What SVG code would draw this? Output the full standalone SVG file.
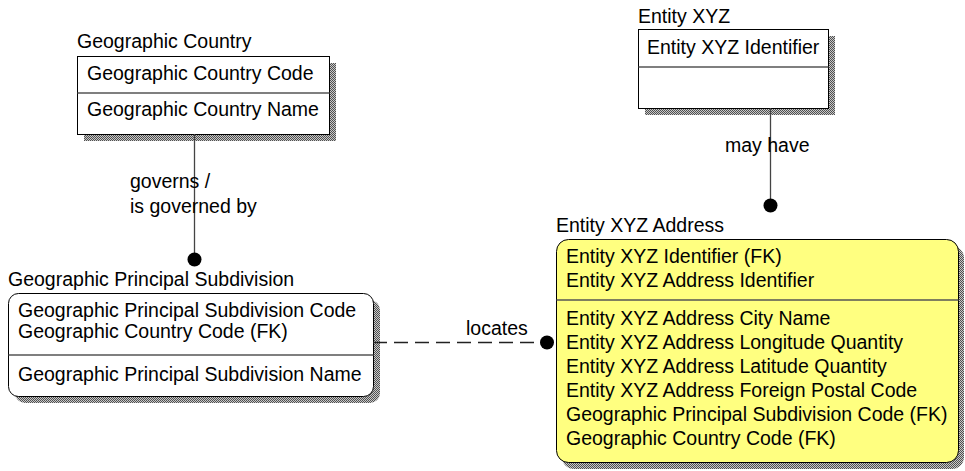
<svg xmlns="http://www.w3.org/2000/svg" width="965" height="471" viewBox="0 0 965 471">
  <style>
    text { font-family: "Liberation Sans", Arial, sans-serif; font-size: 19.5px; fill: #000; }
    .box { fill: #fff; stroke: #000; stroke-width: 1; }
    .dep { fill: #ffff80; stroke: #000; stroke-width: 1; }
    .shadow { fill: url(#hatch); stroke: none; }
    .sep { stroke: #555; stroke-width: 1.5; }
    .rel { stroke: #444; stroke-width: 1.3; fill: none; }
    .dash { stroke: #222; stroke-dasharray: 14 7; }
    .dot { fill: #000; }
  </style>
  <defs>
    <!-- dithered shadow fill -->
    <pattern id="hatch" width="2" height="2" patternUnits="userSpaceOnUse">
      <rect width="2" height="2" fill="#c8c8c8"/>
      <rect width="1" height="1" fill="#505050"/>
      <rect x="1" y="1" width="1" height="1" fill="#505050"/>
    </pattern>
  </defs>

  <!-- Geographic Country -->
  <g id="geographic-country">
    <text x="77" y="48">Geographic Country</text>
    <rect class="shadow" x="84" y="63" width="252" height="78"/>
    <rect class="box" x="77.5" y="56.5" width="252" height="78"/>
    <line class="sep" x1="77.5" y1="93" x2="329.5" y2="93"/>
    <text x="87" y="80">Geographic Country Code</text>
    <text x="87" y="116">Geographic Country Name</text>
  </g>

  <!-- Entity XYZ -->
  <g id="entity-xyz">
    <text x="638" y="23">Entity XYZ</text>
    <rect class="shadow" x="645" y="36" width="190" height="79"/>
    <rect class="box" x="638.5" y="29.5" width="190" height="79"/>
    <line class="sep" x1="638.5" y1="67" x2="828.5" y2="67"/>
    <text x="647" y="54">Entity XYZ Identifier</text>
  </g>

  <!-- Geographic Principal Subdivision -->
  <g id="geographic-principal-subdivision">
    <text x="8" y="286">Geographic Principal Subdivision</text>
    <rect class="shadow" x="15" y="300" width="365" height="103" rx="10"/>
    <rect class="box" x="8.5" y="293.5" width="365" height="103" rx="10"/>
    <line class="sep" x1="8.5" y1="355" x2="373.5" y2="355"/>
    <text x="18" y="317">Geographic Principal Subdivision Code</text>
    <text x="18" y="338">Geographic Country Code (FK)</text>
    <text x="18" y="381">Geographic Principal Subdivision Name</text>
  </g>

  <!-- Entity XYZ Address -->
  <g id="entity-xyz-address">
    <text x="556" y="232">Entity XYZ Address</text>
    <rect class="shadow" x="562" y="246" width="402" height="223" rx="12"/>
    <rect class="dep" x="556.5" y="239.5" width="402" height="223" rx="12"/>
    <line class="sep" x1="556.5" y1="300" x2="958.5" y2="300"/>
    <text x="566" y="263">Entity XYZ Identifier (FK)</text>
    <text x="566" y="287">Entity XYZ Address Identifier</text>
    <text x="566" y="325">Entity XYZ Address City Name</text>
    <text x="566" y="349">Entity XYZ Address Longitude Quantity</text>
    <text x="566" y="373">Entity XYZ Address Latitude Quantity</text>
    <text x="566" y="397">Entity XYZ Address Foreign Postal Code</text>
    <text x="566" y="421">Geographic Principal Subdivision Code (FK)</text>
    <text x="566" y="445">Geographic Country Code (FK)</text>
  </g>

  <!-- relationships, drawn over the shadows -->
  <g id="connectors">
    <line class="rel" x1="194.5" y1="134" x2="194.5" y2="259"/>
    <circle class="dot" cx="194.5" cy="259.5" r="7"/>
    <text x="130" y="188">governs /</text>
    <text x="130" y="213">is governed by</text>

    <line class="rel" x1="770.5" y1="108" x2="770.5" y2="205"/>
    <circle class="dot" cx="770.5" cy="205.5" r="7"/>
    <text x="725" y="152">may have</text>

    <line class="rel dash" x1="373" y1="342.5" x2="546" y2="342.5"/>
    <circle class="dot" cx="547" cy="342.5" r="7"/>
    <text x="466" y="335">locates</text>
  </g>
</svg>
